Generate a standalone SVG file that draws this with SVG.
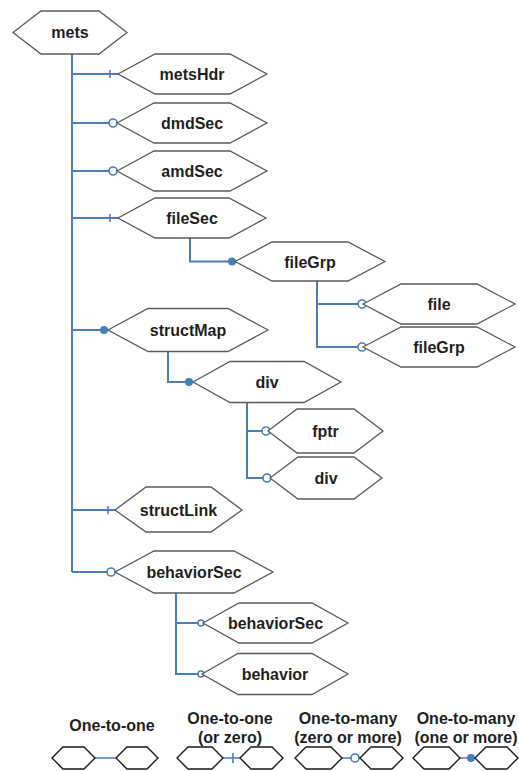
<svg xmlns="http://www.w3.org/2000/svg" width="519" height="771" viewBox="0 0 519 771">
  <style>
    .hex { fill: #ffffff; stroke: #5a5a5a; stroke-width: 1.3; }
    .lhex { fill: #ffffff; stroke: #1a1a1a; stroke-width: 1.4; }
    .lbl { font-family: "Liberation Sans", Arial, sans-serif; font-size: 16px; font-weight: bold; fill: #1f1f1f; text-anchor: middle; }
    .wire { fill: none; stroke: #4a7ebb; stroke-width: 2; }
    .tick { stroke: #4a7ebb; stroke-width: 1.6; }
    .ring { fill: #ffffff; stroke: #4a7ebb; stroke-width: 1.6; }
    .dot { fill: #4a7ebb; }
  </style>

  <!-- connectors -->
  <g id="connectors">
    <!-- mets trunk -->
    <path class="wire" d="M72,54 V572"/>
    <path class="wire" d="M72,74 H118 M72,123 H114 M72,171 H114 M72,218 H118 M72,330 H108 M72,510 H115 M72,572 H111"/>
    <line class="tick" x1="110" y1="70" x2="110" y2="78"/>
    <circle class="ring" cx="113" cy="123" r="4"/>
    <circle class="ring" cx="113" cy="171" r="4"/>
    <line class="tick" x1="110" y1="214" x2="110" y2="222"/>
    <circle class="dot" cx="104" cy="330" r="4"/>
    <line class="tick" x1="108" y1="506" x2="108" y2="514"/>
    <circle class="ring" cx="111" cy="572" r="4"/>

    <!-- fileSec to fileGrp -->
    <path class="wire" d="M190,238 V261.5 H235"/>
    <circle class="dot" cx="232" cy="261.5" r="4"/>

    <!-- fileGrp children -->
    <path class="wire" d="M317,281 V347 H359 M317,304 H359"/>
    <circle class="ring" cx="362" cy="304" r="4"/>
    <circle class="ring" cx="362" cy="347" r="4"/>

    <!-- structMap to div -->
    <path class="wire" d="M168,352 V382 H193"/>
    <circle class="dot" cx="189" cy="382" r="4"/>

    <!-- div children -->
    <path class="wire" d="M247,402 V478 H266 M247,431 H265"/>
    <circle class="ring" cx="266" cy="431" r="4"/>
    <circle class="ring" cx="267" cy="478" r="4"/>

    <!-- behaviorSec children -->
    <path class="wire" d="M176,593 V674 H199 M176,623 H199"/>
    <circle class="ring" cx="201" cy="623" r="3"/>
    <circle class="ring" cx="201" cy="674" r="3"/>
  </g>

  <!-- nodes -->
  <g id="mets">
    <polygon class="hex" points="13,32.5 41,11 99,11 127,32.5 99,54 41,54"/>
    <text class="lbl" x="70" y="38">mets</text>
  </g>
  <g id="metsHdr">
    <polygon class="hex" points="118,74 155,54 230,54 267,74 230,94 155,94"/>
    <text class="lbl" x="192" y="80">metsHdr</text>
  </g>
  <g id="dmdSec">
    <polygon class="hex" points="117,123 154,103 230,103 267,123 230,143 154,143"/>
    <text class="lbl" x="192" y="129">dmdSec</text>
  </g>
  <g id="amdSec">
    <polygon class="hex" points="117,171 154,151 230,151 267,171 230,191 154,191"/>
    <text class="lbl" x="192" y="177">amdSec</text>
  </g>
  <g id="fileSec">
    <polygon class="hex" points="118,218 155,198 229,198 266,218 229,238 155,238"/>
    <text class="lbl" x="192" y="224">fileSec</text>
  </g>
  <g id="fileGrp">
    <polygon class="hex" points="235,261.5 272,242 348,242 385,261.5 348,281 272,281"/>
    <text class="lbl" x="310" y="267.5">fileGrp</text>
  </g>
  <g id="file">
    <polygon class="hex" points="363,304 401,284 477,284 515,304 477,324 401,324"/>
    <text class="lbl" x="439" y="310">file</text>
  </g>
  <g id="fileGrp-2">
    <polygon class="hex" points="363,347 401,327 477,327 515,347 477,367 401,367"/>
    <text class="lbl" x="439" y="353">fileGrp</text>
  </g>
  <g id="structMap">
    <polygon class="hex" points="108,330 148,308.5 228,308.5 268,330 228,351.5 148,351.5"/>
    <text class="lbl" x="188" y="336">structMap</text>
  </g>
  <g id="div">
    <polygon class="hex" points="193,382 230,361.5 304,361.5 341,382 304,402.5 230,402.5"/>
    <text class="lbl" x="267" y="388">div</text>
  </g>
  <g id="fptr">
    <polygon class="hex" points="268,431 297,409 354,409 383,431 354,453 297,453"/>
    <text class="lbl" x="325.5" y="437">fptr</text>
  </g>
  <g id="div-2">
    <polygon class="hex" points="270,478 298,457 354,457 382,478 354,499 298,499"/>
    <text class="lbl" x="326" y="484">div</text>
  </g>
  <g id="structLink">
    <polygon class="hex" points="115,510 146,487 211,487 242,510 211,532 146,532"/>
    <text class="lbl" x="178.5" y="516">structLink</text>
  </g>
  <g id="behaviorSec">
    <polygon class="hex" points="115,572 154,551 234,551 273,572 234,593 154,593"/>
    <text class="lbl" x="194" y="578">behaviorSec</text>
  </g>
  <g id="behaviorSec-2">
    <polygon class="hex" points="203,623 239,603 312,603 348,623 312,643 239,643"/>
    <text class="lbl" x="275.5" y="629">behaviorSec</text>
  </g>
  <g id="behavior">
    <polygon class="hex" points="202,674 238,653.5 312,653.5 348,674 312,694.5 238,694.5"/>
    <text class="lbl" x="275" y="680">behavior</text>
  </g>

  <!-- legend -->
  <g id="legend">
    <text class="lbl" x="112" y="731">One-to-one</text>
    <text class="lbl" x="230" y="724">One-to-one</text>
    <text class="lbl" x="230" y="743">(or zero)</text>
    <text class="lbl" x="348" y="724">One-to-many</text>
    <text class="lbl" x="348" y="743">(zero or more)</text>
    <text class="lbl" x="466" y="724">One-to-many</text>
    <text class="lbl" x="466" y="743">(one or more)</text>

    <path class="wire" d="M95,758 H116 M223,758 H240 M342,758 H360 M460,758 H475" style="stroke-width:1.6"/>
    <line class="tick" x1="233" y1="753" x2="233" y2="763"/>
    <circle class="ring" cx="355" cy="758" r="4"/>
    <circle class="dot" cx="471" cy="758" r="4"/>

    <polygon class="lhex" points="52,758 63,747 84,747 95,758 84,769 63,769"/>
    <polygon class="lhex" points="116,758 127,747 147,747 158,758 147,769 127,769"/>
    <polygon class="lhex" points="177,758 188,747 212,747 223,758 212,769 188,769"/>
    <polygon class="lhex" points="240,758 251,747 272,747 283,758 272,769 251,769"/>
    <polygon class="lhex" points="295,758 306,747 331,747 342,758 331,769 306,769"/>
    <polygon class="lhex" points="360,758 371,747 392,747 403,758 392,769 371,769"/>
    <polygon class="lhex" points="413,758 424,747 449,747 460,758 449,769 424,769"/>
    <polygon class="lhex" points="475,758 486,747 507,747 518,758 507,769 486,769"/>
  </g>
</svg>
